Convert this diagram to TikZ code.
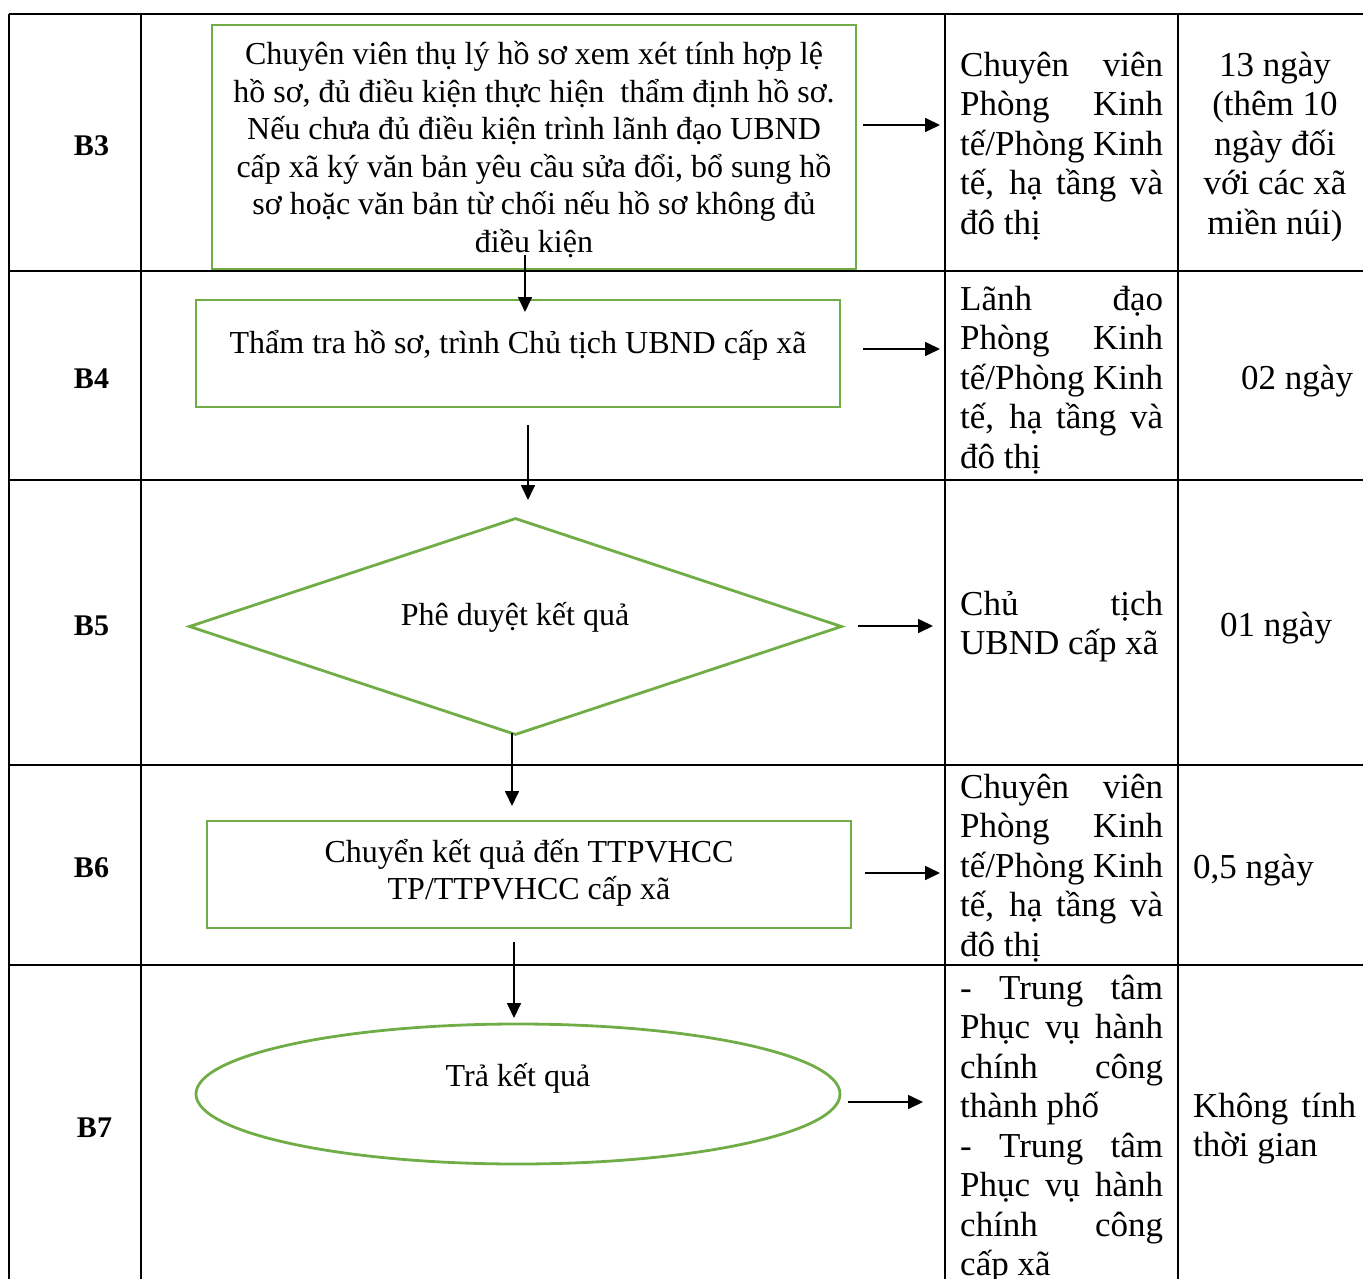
\documentclass[tikz,border=0pt]{standalone}
\usepackage{fontspec}
\setmainfont{Liberation Serif}
\usetikzlibrary{shapes.geometric,arrows.meta}
\definecolor{gr}{HTML}{70AD47}
\newcommand{\jl}[1]{\makebox[203pt][s]{#1}}
\newcommand{\jm}[1]{\makebox[163pt][s]{#1}}
\tikzset{
  gridline/.style={line width=2.5pt, black},
  gbox/.style={draw=gr, line width=2.8pt, rectangle, inner sep=0pt},
  gdia/.style={draw=gr, line width=2.8pt, diamond, aspect=3, inner sep=0pt},
  gell/.style={draw=gr, line width=2.8pt, ellipse, inner sep=0pt},
  cell/.style={anchor=north west, inner sep=0pt, align=left, font=\fontsize{35}{39.5}\selectfont},
  cellc/.style={anchor=north, inner sep=0pt, align=center, font=\fontsize{35}{39.5}\selectfont},
  cellb/.style={anchor=base west, inner sep=0pt, font=\fontsize{35}{39.5}\selectfont},
  boxtxt/.style={anchor=north, inner sep=0pt, align=center, font=\fontsize{32}{37.5}\selectfont},
  boxtxtb/.style={anchor=base, inner sep=0pt, font=\fontsize{32}{37.5}\selectfont},
  lbl/.style={anchor=base, inner sep=0pt, font=\fontsize{30}{36}\selectfont\bfseries},
  arr/.style={line width=1.7pt, -{Triangle[length=15pt,width=14pt]}},
}
\begin{document}
\begin{tikzpicture}[x=1pt,y=-1pt]
\useasboundingbox (0,0) rectangle (1363,1279);
% table grid
\foreach \yy in {14,271,480,765,965} \draw[gridline] (9,\yy) -- (1363,\yy);
\foreach \xx in {9,141,945,1178} \draw[gridline] (\xx,14) -- (\xx,1279);

% row labels
\node[lbl] (l3) at (91.5,156) {B3};
\node[lbl] (l4) at (91.5,388) {B4};
\node[lbl] (l5) at (91.5,635) {B5};
\node[lbl] (l6) at (91.5,877) {B6};
\node[lbl] (l7) at (94.5,1137) {B7};

% shapes
\node[gbox, minimum width=644pt, minimum height=244pt] (b3) at (534,147) {};
\node[boxtxt] (b3t) at (534,34.5) {\rule{0pt}{30pt}Chuyên viên thụ lý hồ sơ xem xét tính hợp lệ\\ hồ sơ, đủ điều kiện thực hiện~ thẩm định hồ sơ.\\ Nếu chưa đủ điều kiện trình lãnh đạo UBND\\ cấp xã ký văn bản yêu cầu sửa đổi, bổ sung hồ\\ sơ hoặc văn bản từ chối nếu hồ sơ không đủ\\ điều kiện};

\node[gbox, minimum width=644pt, minimum height=107pt] (b4) at (518,353.5) {};
\node[boxtxtb] (b4t) at (518,353) {Thẩm tra hồ sơ, trình Chủ tịch UBND cấp xã};

\node[gdia, minimum width=653pt, minimum height=217pt] (b5) at (515.5,626.5) {};
\node[boxtxtb] (b5t) at (515,625) {Phê duyệt kết quả};

\node[gbox, minimum width=644pt, minimum height=107pt] (b6) at (529,874.5) {};
\node[boxtxt] (b6t) at (529,832) {\rule{0pt}{30pt}Chuyển kết quả đến TTPVHCC\\ TP/TTPVHCC cấp xã};

\node[gell, minimum width=644pt, minimum height=140pt] (b7) at (518,1094) {};
\node[boxtxtb] (b7t) at (518,1086) {Trả kết quả};

% column 3 texts
\node[cell] (c3) at (960,43) {\rule{0pt}{33pt}\jl{Chuyên viên}\\ \jl{Phòng Kinh}\\ \jl{tế/Phòng Kinh}\\ \jl{tế, hạ tầng và}\\ đô thị};
\node[cell] (c4) at (960,277) {\rule{0pt}{33pt}\jl{Lãnh đạo}\\ \jl{Phòng Kinh}\\ \jl{tế/Phòng Kinh}\\ \jl{tế, hạ tầng và}\\ đô thị};
\node[cell] (c5) at (960,582) {\rule{0pt}{33pt}\jl{Chủ tịch}\\ UBND cấp xã};
\node[cell] (c6) at (960,765) {\rule{0pt}{33pt}\jl{Chuyên viên}\\ \jl{Phòng Kinh}\\ \jl{tế/Phòng Kinh}\\ \jl{tế, hạ tầng và}\\ đô thị};
\node[cell] (c7) at (960,966) {\rule{0pt}{33pt}\jl{- Trung tâm}\\ \jl{Phục vụ hành}\\ \jl{chính công}\\ thành phố\\ \jl{- Trung tâm}\\ \jl{Phục vụ hành}\\ \jl{chính công}\\ cấp xã};

% column 4 texts
\node[cellc] (d3) at (1275,43) {\rule{0pt}{33pt}13 ngày\\ (thêm 10\\ ngày đối\\ với các xã\\ miền núi)};
\node[cellb] (d4) at (1241,389) {02 ngày};
\node[cellb] (d5) at (1220,636) {01 ngày};
\node[cellb] (d6) at (1193,878) {0,5 ngày};
\node[cell] (d7) at (1193,1084) {\rule{0pt}{33pt}\jm{Không tính}\\ thời gian};

% vertical arrows
\coordinate (v1s) at (525,255); \coordinate (v1e) at (525,312);
\coordinate (v2s) at (528,425); \coordinate (v2e) at (528,500);
\coordinate (v3s) at (512,733); \coordinate (v3e) at (512,806);
\coordinate (v4s) at (514,942); \coordinate (v4e) at (514,1018);
\draw[arr] (v1s) -- (v1e);
\draw[arr] (v2s) -- (v2e);
\draw[arr] (v3s) -- (v3e);
\draw[arr] (v4s) -- (v4e);

% horizontal arrows
\coordinate (h3s) at (863,125); \coordinate (h3e) at (940,125);
\coordinate (h4s) at (863,349); \coordinate (h4e) at (940,349);
\coordinate (h5s) at (858,626); \coordinate (h5e) at (933,626);
\coordinate (h6s) at (865,873); \coordinate (h6e) at (940,873);
\coordinate (h7s) at (848,1102); \coordinate (h7e) at (923,1102);
\draw[arr] (h3s) -- (h3e);
\draw[arr] (h4s) -- (h4e);
\draw[arr] (h5s) -- (h5e);
\draw[arr] (h6s) -- (h6e);
\draw[arr] (h7s) -- (h7e);
\end{tikzpicture}
\end{document}
